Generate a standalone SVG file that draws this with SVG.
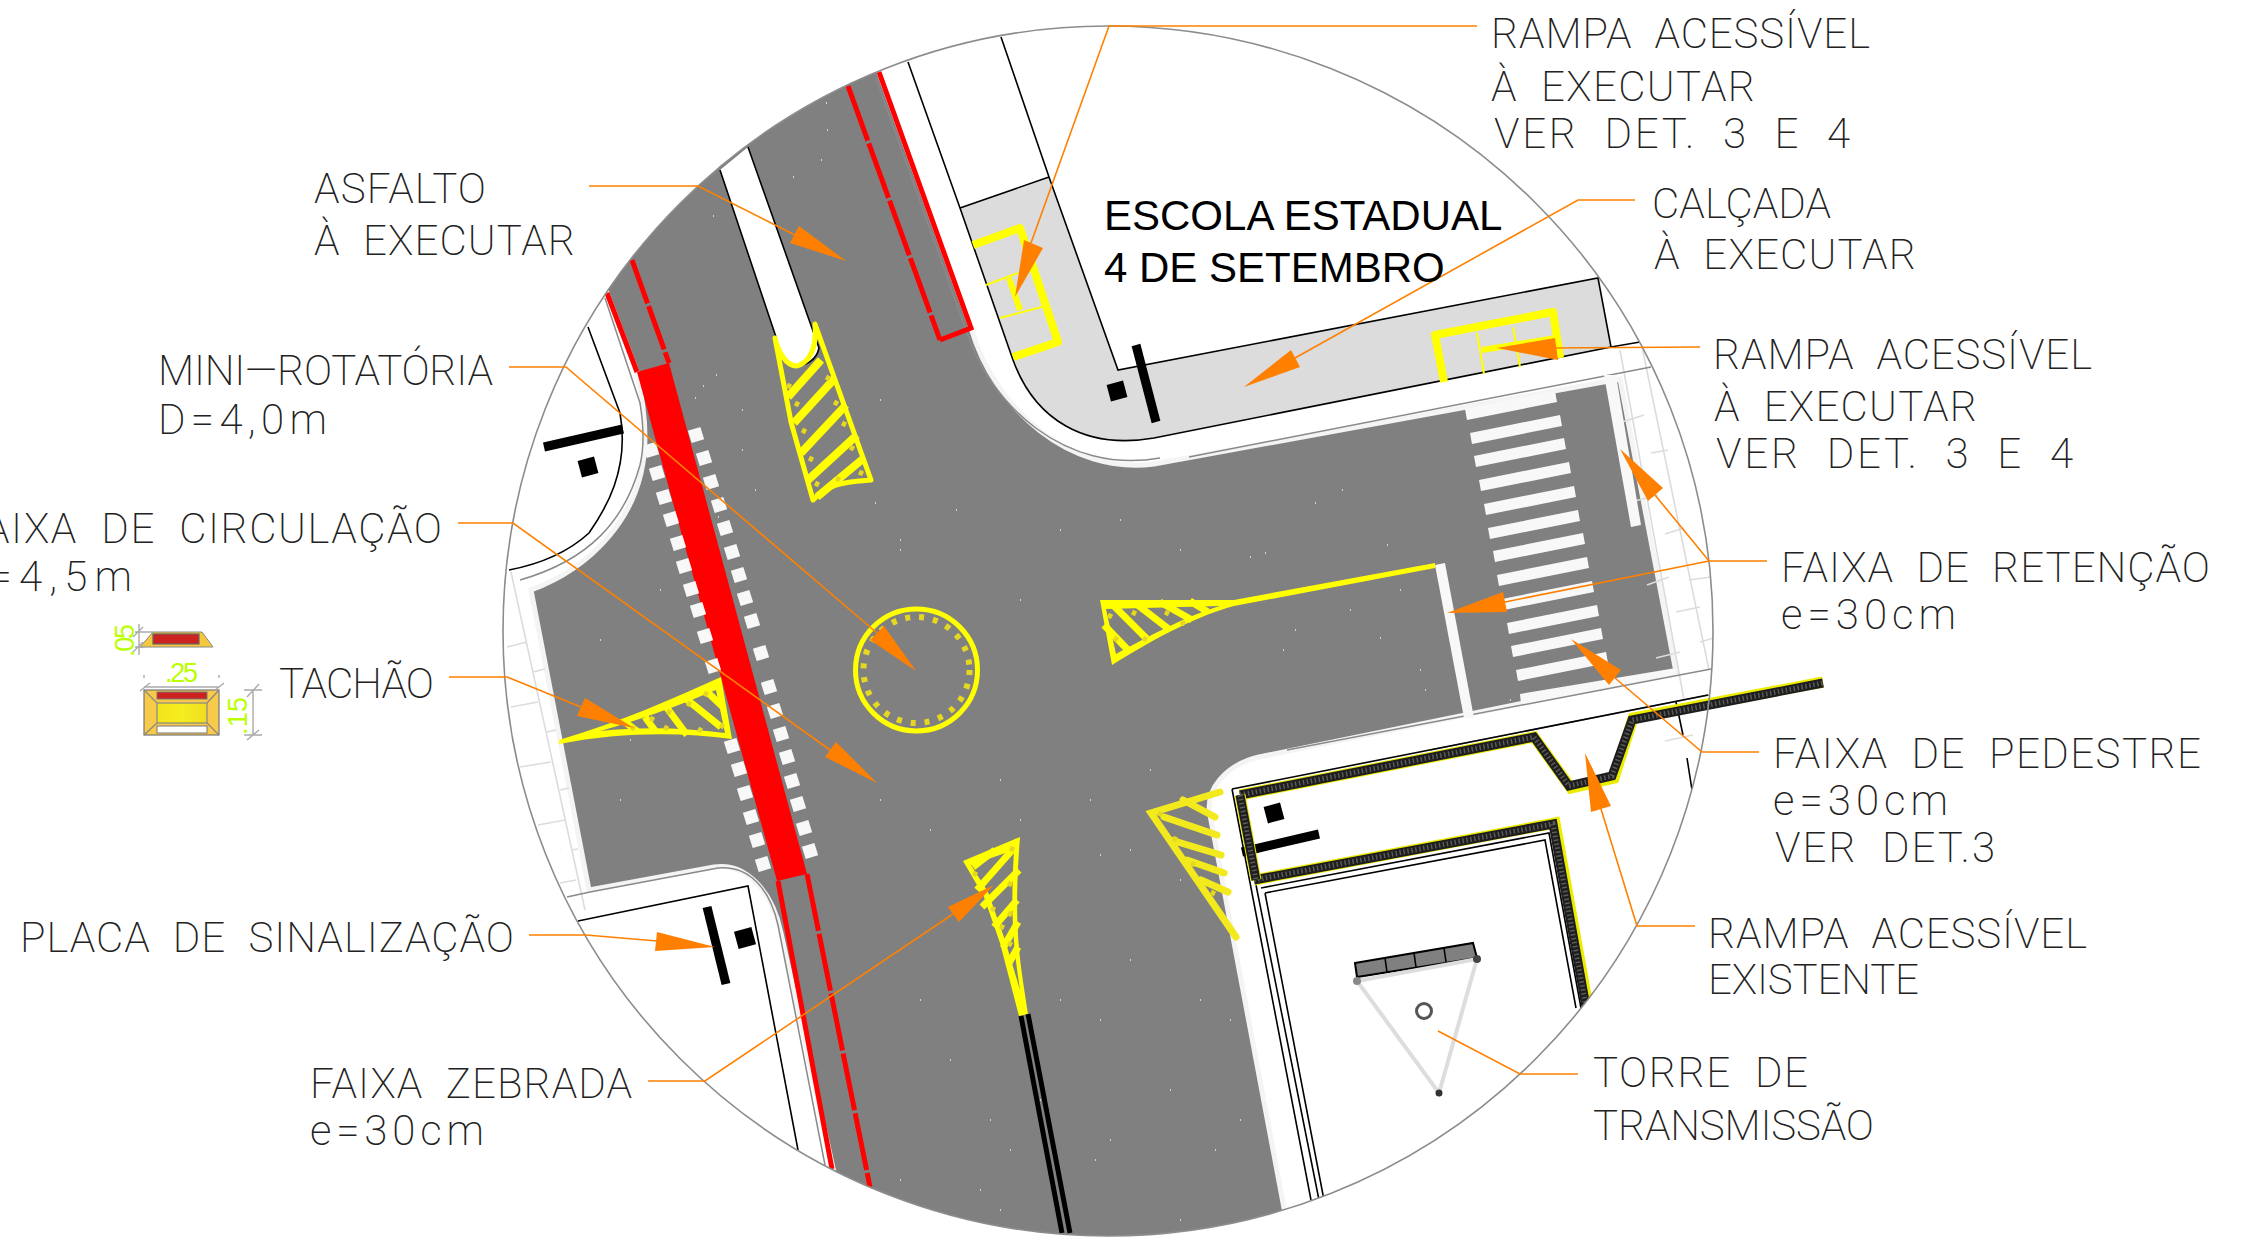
<svg xmlns="http://www.w3.org/2000/svg" width="2259" height="1258" viewBox="0 0 2259 1258">
<style>
.lb{font-family:"Roboto","Liberation Sans",sans-serif;font-weight:200;font-size:42px;fill:#222;white-space:pre}
.es{font-family:"Liberation Sans",Arial,sans-serif;font-size:42px;fill:#000}
.dm{font-family:"Liberation Sans",Arial,sans-serif;font-size:27px;fill:#b9ff00}
.ld{fill:none;stroke:#ff8000;stroke-width:1.6}
.ah{fill:#ff8000}
.k{fill:none;stroke:#000;stroke-width:1.6}
.g{fill:none;stroke:#8a8a8a;stroke-width:1.5}
.p{fill:none;stroke:#dcdcdc;stroke-width:1.6}
.y{fill:none;stroke:#ffff00;stroke-width:7;stroke-linejoin:round}
.y2{fill:none;stroke:#f2ea1c;stroke-width:7;stroke-linecap:round}
.yt{fill:none;stroke:#ffff00;stroke-width:2}
.r{fill:none;stroke:#ff0000;stroke-width:5}
.tm{fill:none;stroke:#e6d820;stroke-width:5}
.s{fill:#f8f8f8}
.b{fill:none;stroke:#000;stroke-width:9}
.f{fill:none;stroke:#ecec00;stroke-width:11;stroke-linejoin:miter}
.f2{fill:none;stroke:#1e1e1e;stroke-width:9;stroke-linejoin:miter}
.f3{fill:none;stroke:#5a5a5a;stroke-width:5;stroke-dasharray:1.5 2.5}
.dl{fill:none;stroke:#aaa;stroke-width:1.4}
</style>
<defs>
<clipPath id="cc"><circle cx="1108" cy="631" r="605"/></clipPath>
<linearGradient id="tg" x1="0" x2="1"><stop offset="0" stop-color="#f2e41e"/><stop offset=".5" stop-color="#f5ee1e"/><stop offset="1" stop-color="#f0dc22"/></linearGradient>
<rect id="q" x="-6.5" y="-6.5" width="13" height="13" class="s" transform="rotate(-17)"/>
</defs>
<rect width="2259" height="1258" fill="#fff"/>
<g id="plan" clip-path="url(#cc)">
<path id="asphalt" fill="#808080" stroke="#f4f4f4" stroke-width="5" d="M547 89L858 14L971 328C995 410 1070 475 1154 464L1620 379L1676 672L1259 757C1225 765 1205 790 1210 815L1290 1240L850 1245L833 1168L781 933C772 890 745 862 714 867L589 890L531 590C585 570 645 520 645 437Q645 410 637 372L607 293Z"/>
<g id="east-strip">
<path class="p" d="M1620 350L1684 700M1642 347L1709 670M1622 422L1644 415M1651 453L1668 450M1631 502L1658 495M1665 534L1684 528M1647 585L1669 577M1676 612L1700 607M1656 658L1680 652M1689 580L1711 577M1665 741L1693 735M1700 642L1714 638"/>
<path class="p" d="M511 572L585 910M507 647L527 642M533 672L545 669M511 707L538 702M547 732L556 730M520 767L551 762M560 790L569 788M538 825L565 820M571 850L578 849M560 883L576 880"/>
<path class="g" d="M1189 457L1651 367M1287 750L1711 669M1430 750L1709 695"/>
</g>
<g id="dots"><path d="M826 103h1M827 130h1M821 160h1M793 177h1M713 216h1M668 358h1M703 386h1M695 398h1M742 410h1M716 375h1M742 450h1M755 490h1M718 517h1M825 465h1M875 503h1M880 400h1M900 540h1M956 510h1M1110 465h1M1250 557h1M1265 553h1M1342 490h1M1315 503h1M1387 545h1M1283 650h1M1295 630h1M1380 638h1M1510 700h1M1470 710h1M1425 690h1M1410 760h1M1345 750h1M1300 780h1M1130 850h1M1180 880h1M1100 855h1M900 550h1M870 640h1M1020 600h1M1060 530h1M1120 520h1M1180 550h1M1020 820h1M1090 800h1M1150 770h1M880 800h1M930 830h1M1000 780h1M630 740h1M620 800h1M560 850h1M600 640h1M660 590h1M685 710h1M1010 1150h1M1060 1000h1M1100 1020h1M1130 960h1M1110 1140h1M1170 1090h1M1230 1020h1M1240 1120h1M1180 1220h1M1270 1100h1M1000 1210h1M990 1120h1M950 1060h1M920 1000h1M900 1180h1M980 1190h1M1040 1100h1M1095 1160h1M1200 1000h1M1215 1150h1M1350 610h1M1400 590h1M1420 670h1M1508 475h1" stroke="#f0f0f0" stroke-width="1.6"/></g>
<g id="median">
<path d="M720 170L748 147L819 348A21 21 0 0 1 777 340Z" fill="#fff"/>
<path class="k" d="M720 170L777 340A21 21 0 0 0 819 348L748 147"/>
</g>
<g id="ne-block">
<path d="M960 208L1049 177L1118 370L1598 278L1611 347L1154 438C1085 450 1035 420 1013 360Z" fill="#dcdcdc"/>
<path class="k" d="M908 62L960 208L1013 360C1035 420 1085 450 1154 438L1611 347L1640 342M960 208L1049 177M1001 37L1049 177L1118 370L1598 278L1611 347"/>
<path class="g" d="M876 78L966 330C990 405 1065 475 1160 458"/>
<path class="y" style="stroke-width:8" d="M973 245L1020 228L1058 342L1013 357"/>
<path class="yt" d="M986 285L1018 273M1000 318L1049 305"/>
<path class="y" style="stroke-width:6" d="M1009 278L1020 310"/>
<path class="y" style="stroke-width:8" d="M1444 382L1435 335L1553 312L1560 358"/>
<path class="yt" d="M1477 333L1484 374M1513 327L1520 367"/>
<path class="y" style="stroke-width:6" d="M1482 350L1556 338"/>
<path class="b" d="M1136 345L1156 422"/>
<rect x="-8.5" y="-8.5" width="17" height="17" transform="translate(1117 391) rotate(-15)"/>
</g>
<g id="red-lines">
<path d="M637 372L669 363L807 874L777 881Z" fill="#ff0000"/>
<path class="r" d="M879 72L971 328L940 340M607 293L637 372M778 881L832 1169"/>
<path class="r" stroke-dasharray="58 3" d="M848 86L940 340"/>
<path class="r" stroke-dasharray="46 3" d="M632 260L669 363"/>
<path class="r" stroke-dasharray="58 3" d="M807 874L870 1187"/>
</g>
<g id="crosswalk-west">
<use href="#q" x="651" y="450"/><use href="#q" x="657" y="473"/><use href="#q" x="664" y="497"/><use href="#q" x="671" y="519"/><use href="#q" x="678" y="543"/><use href="#q" x="684" y="566"/><use href="#q" x="691" y="589"/><use href="#q" x="698" y="610"/><use href="#q" x="705" y="636"/><use href="#q" x="713" y="666"/><use href="#q" x="732" y="746"/><use href="#q" x="739" y="769"/><use href="#q" x="745" y="793"/><use href="#q" x="751" y="817"/><use href="#q" x="757" y="840"/><use href="#q" x="763" y="864"/>
<use href="#q" x="696" y="435"/><use href="#q" x="704" y="458"/><use href="#q" x="711" y="482"/><use href="#q" x="719" y="505"/><use href="#q" x="725" y="528"/><use href="#q" x="732" y="552"/><use href="#q" x="739" y="575"/><use href="#q" x="745" y="598"/><use href="#q" x="752" y="621"/><use href="#q" x="761" y="653"/><use href="#q" x="769" y="687"/><use href="#q" x="775" y="711"/><use href="#q" x="781" y="734"/><use href="#q" x="787" y="757"/><use href="#q" x="792" y="781"/><use href="#q" x="798" y="804"/><use href="#q" x="804" y="828"/><use href="#q" x="810" y="851"/>
</g>
<g id="crosswalk-east" class="s">
<path d="M1465 409L1555 391L1557 402L1467 420Z"/><path d="M1470 433L1560 415L1562 426L1472 444Z"/><path d="M1474 456L1564 438L1566 449L1476 467Z"/><path d="M1479 480L1569 462L1571 473L1481 491Z"/><path d="M1484 504L1574 486L1576 497L1486 515Z"/><path d="M1488 528L1578 510L1580 521L1490 539Z"/><path d="M1493 551L1583 533L1585 544L1495 562Z"/><path d="M1497 575L1587 557L1589 568L1499 586Z"/><path d="M1502 599L1592 581L1594 592L1504 610Z"/><path d="M1507 623L1597 605L1599 616L1509 634Z"/><path d="M1511 646L1601 628L1603 639L1513 657Z"/><path d="M1516 670L1606 652L1608 663L1518 681Z"/><path d="M1520 694L1676 668L1676 674L1521 704Z"/>
<path d="M1604 375L1616 375L1641 525L1631 527Z"/>
<path d="M1435 565L1445 563L1474 718L1464 718Z"/>
</g>
<g id="rotatoria">
<circle cx="916.5" cy="670" r="61" fill="none" stroke="#ffff00" stroke-width="5"/>
<circle cx="916.5" cy="670" r="53" fill="none" stroke="#e6d820" stroke-width="6" stroke-dasharray="5 9"/>
</g>
<g id="zebra-north">
<path class="y" style="stroke-width:5" d="M775 338L791 422L813 500C830 482 848 482 871 480L815 324C818 360 800 365 797 366C785 366 778 350 775 338Z"/>
<path class="y" style="stroke-width:8" d="M788 397L821 360M794 423L835 378M801 453L846 405M808 480L857 435M817 497L864 458"/>
<path class="tm" d="M787 385l4 2M795 403l4 2M802 430l4 2M809 458l4 2M815 483l4 2M826 377l4 2M834 402l4 2M842 423l4 2M850 447l4 2M859 472l4 2M836 478l4 2"/>
</g>
<g id="zebra-east">
<path fill="#ffff00" d="M1100 600L1234 600L1435 563L1435 568L1234 606C1200 615 1160 635 1112 665Z"/>
<path fill="#808080" d="M1106 609L1220 606C1190 615 1160 630 1116 654Z"/>
<path class="y" d="M1104 625L1128 650M1112 604L1148 640M1135 603L1170 630M1160 602L1192 620M1190 601L1208 612"/>
<path class="tm" d="M1108 615l4 2M1114 638l4 2M1132 612l4 2M1143 638l4 2M1165 612l4 2M1181 622l4 2"/>
</g>
<g id="zebra-west">
<path fill="#ffff00" d="M721 677L732 739C680 732 620 732 559 744L559 740C620 722 670 700 721 677Z"/>
<path fill="#808080" d="M716 690L725 733C680 727 640 727 600 731C640 720 680 705 716 690Z"/>
<path class="y" d="M645 717L656 732M667 708L687 735M685 698L721 727M703 688L723 707M625 722L638 732"/>
<path class="tm" d="M631 727l4 2M650 718l4 2M667 711l4 2M664 727l4 2M687 703l4 2M698 729l4 2M704 693l4 2M720 725l4 2"/>
</g>
<g id="zebra-south">
<path fill="#ffff00" d="M1020 837L963 861L984 897L1000 943L1019 1016L1028 1014C1020 960 1013 930 1020 837Z"/>
<path fill="#808080" d="M1014 850L971 865L988 892L1005 940L1020 990C1014 950 1010 920 1014 850Z"/>
<path class="y" d="M973 867L995 850M977 890L1014 848M982 907L1019 870M994 927L1017 900M1003 948L1018 922M1009 963L1018 947"/>
<path class="tm" d="M1010 848l4 2M973 873l4 2M1008 883l4 2M991 908l4 2M1008 913l4 2M1000 926l4 2M1008 943l4 2"/>
<path stroke="#000" stroke-width="5" d="M1021 1016L1062 1233M1028 1014L1070 1233"/>
</g>
<g id="zebra-se">
<path class="y2" d="M1220 792L1151 813L1236 937M1183 800L1215 817M1164 817L1217 835M1171 840L1221 855M1187 860L1224 873M1201 880L1228 892"/>
<path class="tm" d="M1158 813l4 2M1173 838l4 2M1191 863l4 2M1211 892l4 2"/>
</g>
<g id="nw-block">
<path class="g" d="M605 298L640 403Q646 440 640 465C625 520 590 560 520 580"/>
<path class="k" d="M588 327L620 413C630 470 605 510 589 533C565 555 535 565 509 570"/>
<path class="b" d="M544 447L623 429"/>
<rect x="-8.5" y="-8.5" width="17" height="17" transform="translate(588 467) rotate(-15)"/>
</g>
<g id="sw-block">
<path class="g" d="M567 897L590 892L718 868C750 865 770 890 778 925L825 1165"/>
<path class="k" d="M578 921L748 886L798 1150"/>
<path class="b" d="M707 907L726 984"/>
<rect x="-9" y="-9" width="18" height="18" transform="translate(745 938) rotate(-15)"/>
</g>
<g id="se-block">
<path class="k" d="M1232 789L1708 695M1232 789L1311 1200M1238 795L1319 1200M1261 888L1549 833L1581 1008M1265 893L1545 840L1576 1008M1265 893L1324 1200"/>
<path class="k" d="M1676 702L1683 735M1687 758L1692 790"/>
<path class="f" d="M1254 880L1555 823L1594 1040"/>
<path class="f2" d="M1254 880L1553 824L1592 1040"/>
<path class="f3" d="M1254 880L1553 824L1592 1040"/>
<rect x="-8.5" y="-8.5" width="17" height="17" transform="translate(1274 813) rotate(-15)"/>
<path class="b" d="M1242 852L1319 834"/>
</g>
<g id="tower">
<path d="M1355 963L1473 943L1477 958L1357 977Z" fill="#808080" stroke="#000" stroke-width="2"/>
<path class="k" d="M1385 958L1387 972M1414 953L1416 967M1444 948L1446 962"/>
<path fill="none" stroke="#ddd" stroke-width="4" d="M1357 981L1477 959L1439 1093Z"/>
<circle cx="1357" cy="981" r="4" fill="#888"/><circle cx="1477" cy="959" r="4" fill="#444"/><circle cx="1439" cy="1093" r="3.5" fill="#333"/>
<circle cx="1424" cy="1011" r="7.5" fill="#fff" stroke="#555" stroke-width="3"/>
</g>
</g>
<g id="fence">
<path class="f" d="M1240 795L1534 737L1571 788L1614 778L1633 718L1823 682"/>
<path class="f2" d="M1240 795L1534 737L1569 786L1612 776L1632 720L1823 683"/>
<path class="f3" d="M1240 795L1534 737L1569 786L1612 776L1632 720L1823 683"/>
<path class="f" d="M1240 795L1256 880"/><path class="f2" d="M1240 795L1256 880"/><path class="f3" d="M1240 795L1256 880"/>
</g>
<circle id="limit" cx="1108" cy="631" r="605" fill="none" stroke="#8c8c8c" stroke-width="1.6"/>
<g id="connectors">
<path class="ld" d="M1477 26L1109 26L1031 243"/><path class="ah" d="M1015 297L1024 240L1043 248Z"/>
<path class="ld" d="M1635 200L1578 200L1295 358"/><path class="ah" d="M1244 387L1291 350L1300 367Z"/>
<path class="ld" d="M1700 347L1550 348"/><path class="ah" d="M1497 348L1555 338L1558 360Z"/>
<path class="ld" d="M1767 561L1709 561L1655 495M1709 561L1505 602"/><path class="ah" d="M1620 449L1663 488L1648 501Z"/><path class="ah" d="M1447 613L1503 592L1507 612Z"/>
<path class="ld" d="M1759 752L1702 752L1615 678"/><path class="ah" d="M1571 639L1621 670L1609 685Z"/>
<path class="ld" d="M1695 926L1637 926L1601 809"/><path class="ah" d="M1585 753L1611 806L1591 812Z"/>
<path class="ld" d="M1578 1074L1520 1074L1438 1031"/>
<path class="ld" d="M589 186L698 186L795 235"/><path class="ah" d="M846 261L799 226L790 243Z"/>
<path class="ld" d="M509 367L566 367L877 633"/><path class="ah" d="M916 671L884 626L870 640Z"/>
<path class="ld" d="M458 523L513 523L830 750"/><path class="ah" d="M877 783L836 742L825 757Z"/>
<path class="ld" d="M449 677L507 677L581 707"/><path class="ah" d="M634 728L585 698L577 716Z"/>
<path class="ld" d="M529 935L586 935L657 941"/><path class="ah" d="M715 947L657 932L655 951Z"/>
<path class="ld" d="M648 1081L705 1081L953 914"/><path class="ah" d="M994 885L948 907L959 922Z"/>
</g>
<g id="labels">
<text class="es" x="1104" y="230">ESCOLA ESTADUAL</text>
<text class="es" x="1104" y="282">4 DE SETEMBRO</text>
<text class="lb" x="1491" y="48" textLength="379">RAMPA  ACESSÍVEL</text>
<text class="lb" x="1491" y="101" textLength="264">À  EXECUTAR</text>
<text class="lb" x="1494" y="148" textLength="356">VER  DET.  3  E  4</text>
<text class="lb" x="1652" y="218" textLength="179">CALÇADA</text>
<text class="lb" x="1654" y="269" textLength="262">À  EXECUTAR</text>
<text class="lb" x="1713" y="369" textLength="379">RAMPA  ACESSÍVEL</text>
<text class="lb" x="1714" y="421" textLength="263">À  EXECUTAR</text>
<text class="lb" x="1716" y="468" textLength="357">VER  DET.  3  E  4</text>
<text class="lb" x="1781" y="582" textLength="429">FAIXA  DE  RETENÇÃO</text>
<text class="lb" x="1781" y="629" textLength="175">e=30cm</text>
<text class="lb" x="1773" y="768" textLength="428">FAIXA  DE  PEDESTRE</text>
<text class="lb" x="1773" y="815" textLength="175">e=30cm</text>
<text class="lb" x="1775" y="862" textLength="220">VER  DET.3</text>
<text class="lb" x="1708" y="948" textLength="379">RAMPA  ACESSÍVEL</text>
<text class="lb" x="1708" y="994" textLength="211">EXISTENTE</text>
<text class="lb" x="1593" y="1087" textLength="215">TORRE  DE</text>
<text class="lb" x="1593" y="1140" textLength="281">TRANSMISSÃO</text>
<text class="lb" x="310" y="1098" textLength="322">FAIXA  ZEBRADA</text>
<text class="lb" x="310" y="1145" textLength="174">e=30cm</text>
<text class="lb" x="20" y="952" textLength="494">PLACA  DE  SINALIZAÇÃO</text>
<text class="lb" x="279" y="698" textLength="155">TACHÃO</text>
<text class="lb" x="-38" y="543" textLength="480">FAIXA  DE  CIRCULAÇÃO</text>
<text class="lb" x="-40" y="591" textLength="172">e=4,5m</text>
<text class="lb" x="158" y="385" textLength="335">MINI—ROTATÓRIA</text>
<text class="lb" x="158" y="434" textLength="169">D=4,0m</text>
<text class="lb" x="314" y="203" textLength="172">ASFALTO</text>
<text class="lb" x="314" y="255" textLength="261">À  EXECUTAR</text>
</g>
<g id="tachao">
<path d="M140 647L153 632L202 632L213 647Z" fill="#f4c83c" stroke="#888" stroke-width="1"/>
<rect x="153" y="634" width="46" height="10" fill="#cc2222" stroke="#666" stroke-width="1.2"/>
<rect x="144" y="690" width="75" height="45" fill="#f8ca4a" stroke="#777" stroke-width="1.2"/>
<rect x="157" y="703" width="50" height="20" fill="url(#tg)" stroke="#888" stroke-width="1.2"/>
<rect x="157" y="692" width="50" height="7" fill="#cc2222" stroke="#777" stroke-width="1"/>
<rect x="157" y="726" width="50" height="7" fill="#fff" stroke="#777" stroke-width="1"/>
<path stroke="#888" stroke-width="1.2" d="M144 690L157 703M219 690L207 703M144 735L157 723M219 735L207 723"/>
<path class="dl" d="M144 687L219 687M140 691L150 683M214 691L224 683M144 675V678M219 675V678M253 690V735M244 690H262M244 735H262M247 697L259 684M247 740L259 730M139 624V655M135 632H153M135 647H145M133 637L143 627M133 652L143 642"/>
<text class="dm" x="0" y="0" transform="translate(134 657) rotate(-90)" textLength="33">.05</text>
<text class="dm" x="165" y="682" textLength="33">.25</text>
<text class="dm" x="0" y="0" transform="translate(247 735) rotate(-90)" textLength="38">.15</text>
</g>
</svg>
